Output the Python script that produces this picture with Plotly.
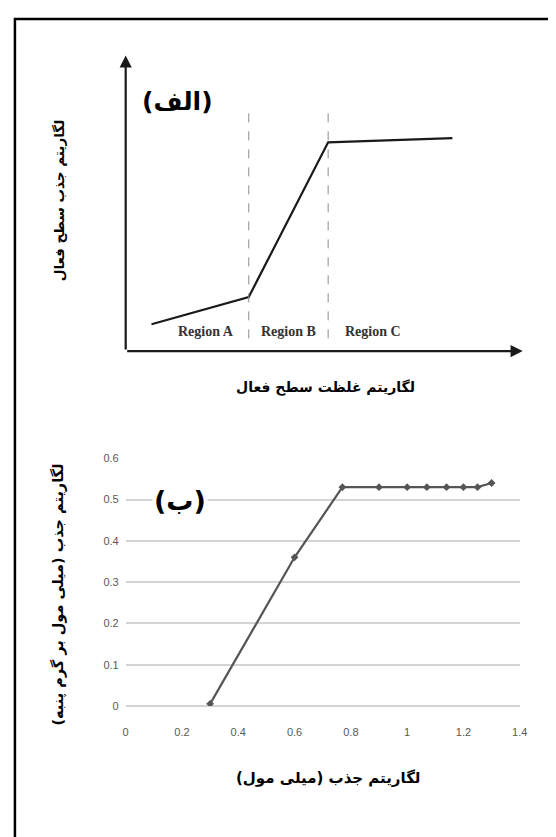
import plotly.graph_objects as go

W, H = 556, 837
RLM = "\u200f"
OFF = 8  # page body margin offset

# ---- Panel (الف): conceptual isotherm ----
concept_x = [0.065, 0.31, 0.51, 0.823]
concept_y = [0.091, 0.183, 0.706, 0.72]
region_bounds = [0.31, 0.51]
region_names = ["Region A", "Region B", "Region C"]
region_centers = [0.202, 0.411, 0.622]

# ---- Panel (ب): measured data ----
log_c = [0.30, 0.60, 0.77, 0.90, 1.00, 1.07, 1.14, 1.20, 1.25, 1.30]
log_q = [0.005, 0.36, 0.53, 0.53, 0.53, 0.53, 0.53, 0.53, 0.53, 0.54]
x_ticks = [0, 0.2, 0.4, 0.6, 0.8, 1.0, 1.2, 1.4]
x_tick_text = ["0", "0.2", "0.4", "0.6", "0.8", "1", "1.2", "1.4"]
y_ticks = [0, 0.1, 0.2, 0.3, 0.4, 0.5, 0.6]
y_tick_text = ["0", "0.1", "0.2", "0.3", "0.4", "0.5", "0.6"]

def px(x):
    return (x - OFF) / W

def py(y):
    return 1 - (y - OFF) / H

fa_font = "DejaVu Sans"

fig = go.Figure()

fig.add_trace(go.Scatter(x=concept_x, y=concept_y, mode="lines",
                         line=dict(color="#1a1a1a", width=2.2),
                         xaxis="x", yaxis="y", showlegend=False, hoverinfo="skip"))

fig.add_trace(go.Scatter(x=log_c, y=log_q, mode="lines+markers",
                         line=dict(color="#555555", width=2.2),
                         marker=dict(symbol="diamond", size=6, color="#555555"),
                         xaxis="x2", yaxis="y2", showlegend=False))

shapes = []
shapes.append(dict(type="rect", xref="paper", yref="paper",
                   x0=px(12), x1=px(600), y0=py(900), y1=py(13),
                   line=dict(color="black", width=2.5), fillcolor="rgba(0,0,0,0)"))
for b in region_bounds:
    shapes.append(dict(type="line", xref="x", yref="y", x0=b, x1=b, y0=0.043, y1=0.833,
                       line=dict(color="#8c8c8c", width=1, dash="dash")))

annotations = []
annotations.append(dict(x=1, y=0, ax=0, ay=0, xref="x", yref="y", axref="x", ayref="y",
                        showarrow=True, arrowhead=2, arrowsize=1.1, arrowwidth=2.2,
                        arrowcolor="#1a1a1a", text=""))
annotations.append(dict(x=0, y=1, ax=0, ay=0, xref="x", yref="y", axref="x", ayref="y",
                        showarrow=True, arrowhead=2, arrowsize=1.1, arrowwidth=2.2,
                        arrowcolor="#1a1a1a", text=""))
for name, cx in zip(region_names, region_centers):
    annotations.append(dict(x=cx, y=0.067, xref="x", yref="y", text="<b>%s</b>" % name,
                            showarrow=False, xanchor="center", yanchor="middle",
                            font=dict(family="Liberation Serif", size=14, color="#333333")))

def label(x, y, text, size, angle=0, bg=None):
    d = dict(x=px(x), y=py(y), xref="paper", yref="paper",
             text="<b>" + RLM + text + RLM + "</b>", showarrow=False,
             xanchor="center", yanchor="middle", textangle=angle,
             font=dict(family=fa_font, size=size, color="black"))
    if bg:
        d["bgcolor"] = bg
    return d

annotations.append(label(178, 97, "(الف)", 25))
annotations.append(label(329, 387, "لگاریتم غلظت سطح فعال", 14))
annotations.append(label(57, 197, "لگاریتم جذب سطح فعال", 13.5, -90))
annotations.append(label(180, 502, "(ب)", 27, bg="white"))
annotations.append(label(331, 783, "لگاریتم جذب (میلی مول)", 15))
annotations.append(label(56, 597, "لگاریتم جذب (میلی مول بر گرم پنبه)", 14.5, -90))

tick_font = dict(family="Liberation Sans Narrow, Arial Narrow, Liberation Sans, sans-serif",
                 size=11, color="#595959")

fig.update_layout(
    width=W, height=H,
    margin=dict(l=0, r=0, t=0, b=0),
    paper_bgcolor="white", plot_bgcolor="white",
    shapes=shapes, annotations=annotations,
    xaxis=dict(domain=[px(125), px(530)], range=[0, 1], visible=False, fixedrange=True),
    yaxis=dict(domain=[py(350), py(50)], range=[0, 1], visible=False, fixedrange=True),
    xaxis2=dict(domain=[px(125), px(527)], range=[0, 1.4], anchor="y2",
                tickvals=x_ticks, ticktext=x_tick_text, showgrid=False, zeroline=False,
                showline=False, ticks="", ticklabelstandoff=18, tickfont=tick_font),
    yaxis2=dict(domain=[py(710), py(458.7)], range=[0, 0.6], anchor="x2",
                tickvals=y_ticks, ticktext=y_tick_text, showgrid=True,
                gridcolor="#d4d4d4", gridwidth=1.5, zeroline=True, zerolinecolor="#d4d4d4",
                zerolinewidth=1.5, showline=False, ticks="", ticklabelstandoff=6,
                tickfont=tick_font),
)

fig.write_html("out.html")
